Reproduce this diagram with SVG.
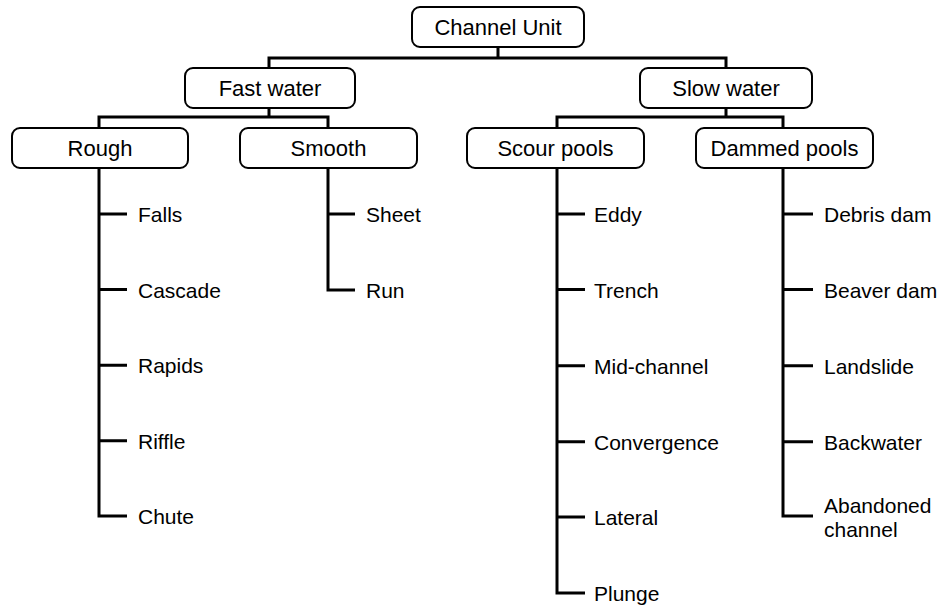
<svg xmlns="http://www.w3.org/2000/svg" width="942" height="607" viewBox="0 0 942 607">
<style>
.box{fill:#fff;stroke:#000;stroke-width:2}
.bt{font-family:"Liberation Sans",Arial,sans-serif;font-size:22px;fill:#000;text-anchor:middle}
.lt{font-family:"Liberation Sans",Arial,sans-serif;font-size:21px;fill:#000}
.c{fill:none;stroke:#000;stroke-width:3}
</style>
<rect width="942" height="607" fill="#fff"/>
<g id="connectors">
<path class="c" d="M498 47V58M269 68V58H726V68"/>
<path class="c" d="M269 108V117M99 128V117H328V128"/>
<path class="c" d="M726 107V117M557 128V117H783V128"/>
<path class="c" d="M99 168V516H127M99 214H127M99 289.6H127M99 365.2H127M99 440.8H127"/>
<path class="c" d="M328 168V290H355M328 214H355"/>
<path class="c" d="M557 168V593H585M557 214H585M557 289.6H585M557 365.8H585M557 441.8H585M557 517H585"/>
<path class="c" d="M783 168V516H813M783 214H813M783 289.6H813M783 365.8H813M783 441.8H813"/>
</g>
<g id="channel-unit"><rect class="box" x="412" y="7" width="172" height="40" rx="8"/><text class="bt" x="498" y="35">Channel Unit</text></g>
<g id="fast-water"><rect class="box" x="185" y="68" width="170" height="40" rx="8"/><text class="bt" x="270" y="96">Fast water</text></g>
<g id="slow-water"><rect class="box" x="640" y="68" width="172" height="40" rx="8"/><text class="bt" x="726" y="96">Slow water</text></g>
<g id="rough"><rect class="box" x="12" y="128" width="176" height="40" rx="8"/><text class="bt" x="100" y="156">Rough</text></g>
<g id="smooth"><rect class="box" x="240" y="128" width="177" height="40" rx="8"/><text class="bt" x="328.5" y="156">Smooth</text></g>
<g id="scour-pools"><rect class="box" x="467" y="128" width="177" height="40" rx="8"/><text class="bt" x="555.5" y="156">Scour pools</text></g>
<g id="dammed-pools"><rect class="box" x="696" y="128" width="177" height="40" rx="8"/><text class="bt" x="784.5" y="156">Dammed pools</text></g>
<g id="falls"><text class="lt" x="138" y="222">Falls</text></g>
<g id="cascade"><text class="lt" x="138" y="297.5">Cascade</text></g>
<g id="rapids"><text class="lt" x="138" y="373">Rapids</text></g>
<g id="riffle"><text class="lt" x="138" y="448.5">Riffle</text></g>
<g id="chute"><text class="lt" x="138" y="524">Chute</text></g>
<g id="sheet"><text class="lt" x="366" y="222">Sheet</text></g>
<g id="run"><text class="lt" x="366" y="297.5">Run</text></g>
<g id="eddy"><text class="lt" x="594" y="222">Eddy</text></g>
<g id="trench"><text class="lt" x="594" y="297.5">Trench</text></g>
<g id="mid-channel"><text class="lt" x="594" y="373.5">Mid-channel</text></g>
<g id="convergence"><text class="lt" x="594" y="449.5">Convergence</text></g>
<g id="lateral"><text class="lt" x="594" y="525">Lateral</text></g>
<g id="plunge"><text class="lt" x="594" y="600.5">Plunge</text></g>
<g id="debris-dam"><text class="lt" x="824" y="222">Debris dam</text></g>
<g id="beaver-dam"><text class="lt" x="824" y="297.5">Beaver dam</text></g>
<g id="landslide"><text class="lt" x="824" y="373.5">Landslide</text></g>
<g id="backwater"><text class="lt" x="824" y="449.5">Backwater</text></g>
<g id="abandoned-channel"><text class="lt" x="824" y="513">Abandoned</text><text class="lt" x="824" y="537">channel</text></g>
</svg>
